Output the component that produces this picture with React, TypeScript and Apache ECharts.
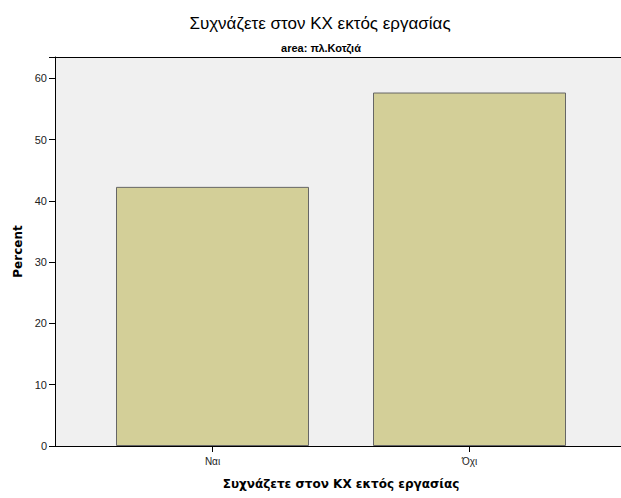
import React, { useEffect, useRef } from "react";
import * as echarts from "echarts";

const categories = ["Ναι", "Όχι"];
const percentValues = [42.3, 57.7];
const yTicks = [0, 10, 20, 30, 40, 50, 60];
const titleText = "Συχνάζετε στον ΚΧ εκτός εργασίας";
const subtitleText = "area: πλ.Κοτζιά";
const xName = "Συχνάζετε στον ΚΧ εκτός εργασίας";
const yName = "Percent";

const SANS = "'Liberation Sans', Arial, sans-serif";
const DEJA = "'DejaVu Sans', Verdana, sans-serif";

export default function App() {
  const ref = useRef<HTMLDivElement>(null);
  useEffect(() => {
    if (!ref.current) return;
    const chart = echarts.init(ref.current, undefined, { renderer: "svg" });
    const yMax = 63.5;
    chart.setOption({
      animation: false,
      backgroundColor: "#ffffff",
      title: [
        {
          text: titleText,
          left: 315,
          top: 10,
          textAlign: "center",
          textStyle: { fontFamily: SANS, fontSize: 17, fontWeight: "normal", color: "#000" },
        },
        {
          text: subtitleText,
          left: 316,
          top: 37,
          textAlign: "center",
          textStyle: { fontFamily: SANS, fontSize: 11, fontWeight: "bold", color: "#000" },
        },
      ],
      grid: [
        { left: 55, top: 57, width: 580, bottom: 52, show: true, backgroundColor: "#f0f0f0", borderWidth: 0 },
        { left: 84, top: 57, right: 23, bottom: 52 },
      ],
      xAxis: [
        {
          gridIndex: 0, type: "value", position: "top", min: 0, max: 1,
          axisLine: { show: true, onZero: false, lineStyle: { color: "#000", width: 1 } },
          axisTick: { show: false }, axisLabel: { show: false }, splitLine: { show: false },
        },
        {
          gridIndex: 0, type: "value", position: "bottom", min: 0, max: 1,
          axisLine: { show: true, onZero: false, lineStyle: { color: "#000", width: 1 } },
          axisTick: { show: false }, axisLabel: { show: false }, splitLine: { show: false },
        },
        {
          gridIndex: 1, type: "category", data: categories, position: "bottom",
          axisLine: { show: false },
          axisTick: { show: true, alignWithLabel: true, length: 6, lineStyle: { color: "#000" } },
          axisLabel: { fontFamily: SANS, fontSize: 10, color: "#222", margin: 10 },
          name: xName, nameLocation: "middle", nameGap: 32,
          nameTextStyle: { fontFamily: DEJA, fontSize: 12, fontWeight: "bold", color: "#000" },
        },
      ],
      yAxis: [
        {
          gridIndex: 0, type: "value", min: 0, max: yMax, interval: 10,
          axisLine: { show: true, lineStyle: { color: "#000", width: 1 } },
          axisTick: { show: true, length: 6, lineStyle: { color: "#000" } },
          axisLabel: {
            fontFamily: SANS, fontSize: 11, color: "#222", margin: 8,
            formatter: (v: number) => (yTicks.includes(v) ? String(v) : ""),
          },
          splitLine: { show: false },
          name: yName, nameLocation: "middle", nameGap: 31,
          nameTextStyle: { fontFamily: DEJA, fontSize: 12, fontWeight: "bold", color: "#000" },
        },
        { gridIndex: 1, type: "value", min: 0, max: yMax, show: false },
      ],
      series: [
        {
          type: "bar",
          xAxisIndex: 2,
          yAxisIndex: 1,
          data: percentValues,
          barWidth: 193,
          itemStyle: { color: "#d3cf98", borderColor: "#666", borderWidth: 1 },
        },
      ],
    });
    return () => chart.dispose();
  }, []);
  return (
    <div
      ref={ref}
      style={{ position: "fixed", left: 0, top: 0, width: 621, height: 498 }}
    />
  );
}
